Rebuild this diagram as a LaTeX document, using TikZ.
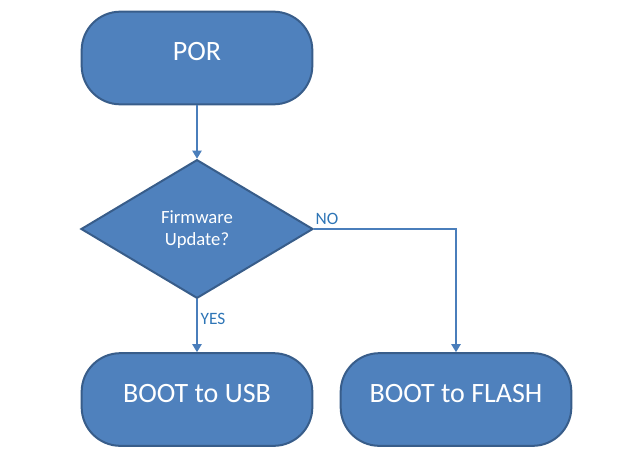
\documentclass[tikz,border=0pt]{standalone}
\usepackage{fontspec}
\setmainfont{Carlito}
\usetikzlibrary{shapes.geometric,arrows.meta}
\definecolor{boxfill}{HTML}{4F81BD}
\definecolor{boxline}{HTML}{385D8A}
\definecolor{linkc}{HTML}{4A7EBB}
\definecolor{labc}{HTML}{2E75B6}
\begin{document}
\begin{tikzpicture}[x=0.75pt,y=-0.75pt,
  term/.style={draw=boxline,fill=boxfill,line width=1.5pt,rounded corners=29pt,
    minimum width=173pt,minimum height=69.5pt,inner sep=0pt},
  termtext/.style={text=white,font=\fontsize{21}{25}\selectfont,inner sep=0pt},
  decision/.style={diamond,draw=boxline,fill=boxfill,line width=1.5pt,
    minimum width=174pt,minimum height=104pt,inner sep=0pt,aspect=1.67},
  dectext/.style={text=white,align=center,inner sep=0pt,
    font=\fontsize{14}{17}\selectfont},
  link/.style={draw=linkc,line width=1pt,-{Triangle[width=7pt,length=6pt]}},
  linklabel/.style={text=labc,font=\fontsize{13}{15}\selectfont,inner sep=0pt}]
\useasboundingbox (0,0) rectangle (627,464);
\node[term] (por) at (197,58) {};
\node[termtext] (portext) at ([yshift=4.5pt]por.center) {POR};
\node[decision] (dec) at (197,229) {};
\node[dectext] (dectxt) at ([yshift=-0.5pt]dec.center) {Firmware\\Update?};
\node[term] (usb) at (197,399.5) {};
\node[termtext] (usbtext) at ([yshift=4.5pt]usb.center) {BOOT to USB};
\node[term] (flash) at (456,399.5) {};
\node[termtext] (flashtext) at ([yshift=4.5pt]flash.center) {BOOT to FLASH};
\draw[link] (por) -- (dec);
\draw[link] (dec) -- (usb);
\draw[link] (dec.east) -| (flash.north);
\node[linklabel] (no) at (327,219) {NO};
\node[linklabel] (yes) at (213,319) {YES};
\end{tikzpicture}
\end{document}
